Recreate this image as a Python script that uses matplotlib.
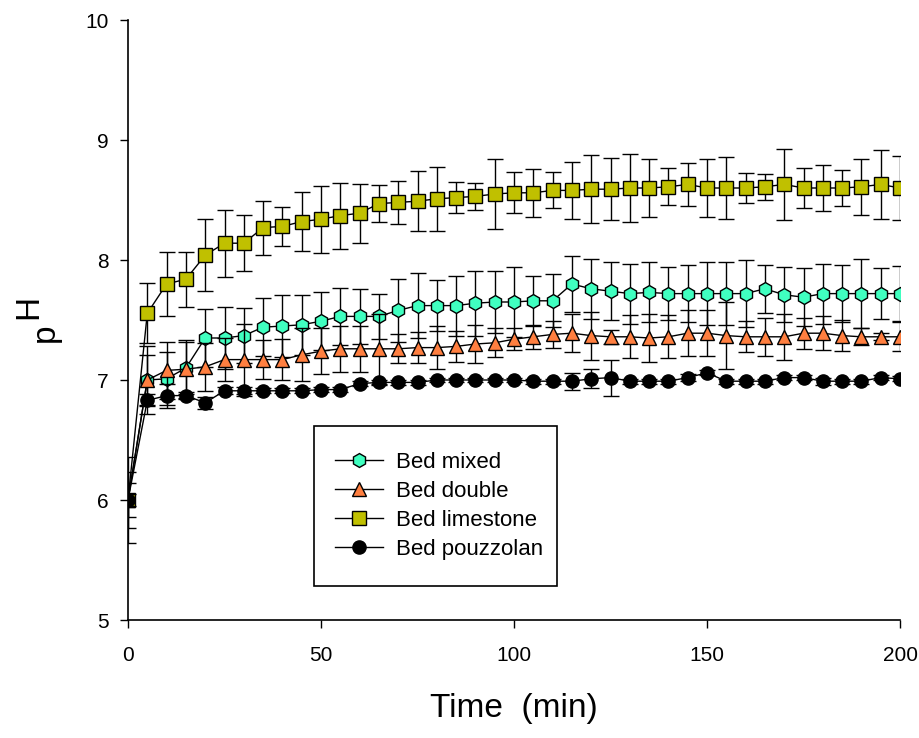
import matplotlib
matplotlib.use("Agg")
import matplotlib.pyplot as plt
from matplotlib.patches import Rectangle
from matplotlib.lines import Line2D

plt.rcParams['font.family'] = ['Liberation Sans', 'DejaVu Sans']

time = [0, 5, 10, 15, 20, 25, 30, 35, 40, 45, 50, 55, 60, 65, 70, 75, 80, 85, 90, 95, 100,
        105, 110, 115, 120, 125, 130, 135, 140, 145, 150, 155, 160, 165, 170, 175, 180, 185, 190, 195, 200]

mixed = [6.00, 7.00, 7.01, 7.10, 7.35, 7.35, 7.37, 7.44, 7.45, 7.46, 7.49, 7.53, 7.53, 7.53, 7.58, 7.62, 7.62, 7.62, 7.64, 7.65, 7.65,
         7.66, 7.66, 7.80, 7.76, 7.74, 7.72, 7.73, 7.72, 7.72, 7.72, 7.72, 7.72, 7.76, 7.71, 7.69, 7.72, 7.72, 7.72, 7.72, 7.72]
mixed_err = [0.14, 0.28, 0.22, 0.22, 0.24, 0.26, 0.23, 0.24, 0.26, 0.25, 0.24, 0.24, 0.23, 0.19, 0.26, 0.27, 0.21, 0.25, 0.27, 0.26, 0.29,
             0.21, 0.22, 0.235, 0.25, 0.24, 0.25, 0.25, 0.22, 0.24, 0.26, 0.26, 0.28, 0.20, 0.23, 0.24, 0.25, 0.24, 0.29, 0.21, 0.23]

double = [6.00, 7.00, 7.08, 7.09, 7.11, 7.17, 7.17, 7.17, 7.17, 7.21, 7.24, 7.26, 7.26, 7.26, 7.26, 7.27, 7.27, 7.28, 7.30, 7.31, 7.34,
          7.36, 7.38, 7.39, 7.37, 7.36, 7.36, 7.35, 7.36, 7.39, 7.39, 7.37, 7.36, 7.36, 7.36, 7.39, 7.39, 7.37, 7.36, 7.36, 7.36]
double_err = [0.23, 0.21, 0.24, 0.24, 0.20, 0.18, 0.30, 0.16, 0.17, 0.22, 0.19, 0.19, 0.19, 0.29, 0.12, 0.13, 0.18, 0.13, 0.16, 0.12, 0.09,
              0.10, 0.11, 0.16, 0.20, 0.06, 0.18, 0.20, 0.18, 0.19, 0.19, 0.28, 0.13, 0.16, 0.19, 0.13, 0.14, 0.13, 0.07, 0.03, 0.12]

limestone = [6.00, 7.556, 7.80, 7.84, 8.04, 8.14, 8.14, 8.27, 8.28, 8.32, 8.34, 8.37, 8.39, 8.47, 8.48, 8.49, 8.51, 8.52, 8.53, 8.55, 8.56,
             8.56, 8.58, 8.58, 8.59, 8.59, 8.60, 8.60, 8.61, 8.63, 8.60, 8.60, 8.60, 8.61, 8.63, 8.60, 8.60, 8.60, 8.61, 8.63, 8.60]
limestone_err = [0.36, 0.25, 0.27, 0.23, 0.30, 0.28, 0.235, 0.225, 0.165, 0.245, 0.28, 0.275, 0.245, 0.155, 0.18, 0.25, 0.265, 0.13, 0.115, 0.29, 0.17,
                 0.20, 0.15, 0.235, 0.285, 0.26, 0.28, 0.245, 0.155, 0.18, 0.245, 0.26, 0.125, 0.11, 0.295, 0.165, 0.195, 0.15, 0.235, 0.285, 0.265]

pouzzolan = [6.00, 6.83, 6.87, 6.87, 6.81, 6.91, 6.91, 6.91, 6.91, 6.91, 6.92, 6.92, 6.97, 6.98, 6.98, 6.98, 7.00, 7.00, 7.00, 7.00, 7.00,
             6.99, 6.99, 6.99, 7.01, 7.02, 6.99, 6.99, 6.99, 7.02, 7.06, 6.99, 6.99, 6.99, 7.02, 7.02, 6.99, 6.99, 6.99, 7.02, 7.01]
pouzzolan_err = [0.05, 0.05, 0.10, 0.03, 0.05, 0.03, 0.03, 0.02, 0.02, 0.02, 0.02, 0.02, 0.02, 0.02, 0.02, 0.02, 0.02, 0.02, 0.02, 0.02, 0.02,
                 0.02, 0.02, 0.07, 0.08, 0.15, 0.02, 0.02, 0.02, 0.03, 0.02, 0.02, 0.02, 0.02, 0.02, 0.02, 0.03, 0.02, 0.02, 0.02, 0.02]

labels = ['Bed mixed', 'Bed double', 'Bed limestone', 'Bed pouzzolan']
colors = ['#40FFC0', '#FF7F40', '#C0C000', '#000000']
markers = ['h', '^', 's', 'o']
xticks = [0, 50, 100, 150, 200]
yticks = [5, 6, 7, 8, 9, 10]

W, H = 919, 738
X0, X1, Y0, Y1 = 128, 900, 620, 20   # axes pixel frame

fig = plt.figure(figsize=(W / 100, H / 100), dpi=100)
ax = fig.add_axes([X0 / W, 1 - Y0 / H, (X1 - X0) / W, (Y0 - Y1) / H])

def ax_xy(px, py):
    return (px - X0) / (X1 - X0), (Y0 - py) / (Y0 - Y1)

series = [(mixed, mixed_err), (double, double_err), (limestone, limestone_err), (pouzzolan, pouzzolan_err)]
handles = []
for i, ((vals, errs), lab, col, mk) in enumerate(zip(series, labels, colors, markers)):
    ms = {'h': 10, '^': 10.5, 's': 10, 'o': 9.5}[mk]
    ax.errorbar(time, vals, yerr=errs, fmt='-', color='black', lw=1.0,
                ecolor='black', elinewidth=1.0, capsize=6, capthick=1.0,
                marker=mk, markersize=ms, markerfacecolor=col,
                markeredgecolor='black', markeredgewidth=1.0, zorder=3 + i)
    handles.append(Line2D([], [], color='black', lw=1.0, marker=mk, markersize=ms,
                          markerfacecolor=col, markeredgecolor='black', markeredgewidth=1.0))

ax.set_xlim(0, 200)
ax.set_ylim(5, 10)
ax.set_xticks(xticks)
ax.set_yticks(yticks)
ax.tick_params(direction='out', length=6, width=1, labelsize=15)
ax.tick_params(axis='x', pad=13)
ax.tick_params(axis='y', pad=8)
for s in ['top', 'right']:
    ax.spines[s].set_visible(False)
for s in ['left', 'bottom']:
    ax.spines[s].set_linewidth(1.2)

ax.set_xlabel('Time  (min)', fontsize=24, labelpad=20)

fig.text(45 / W, 1 - 333 / H, 'p', rotation=90, fontsize=24, ha='center', va='center')
fig.text(29 / W, 1 - 307 / H, 'H', rotation=90, fontsize=24, ha='center', va='center')

# legend box
bx0, by0 = ax_xy(314, 586)
bx1, by1 = ax_xy(557, 426)
ax.add_patch(Rectangle((bx0, by0), bx1 - bx0, by1 - by0,
                       transform=ax.transAxes, facecolor='white', edgecolor='black',
                       lw=1.2, zorder=10))
lx, ly = ax_xy(335, 452)
leg = ax.legend(handles, labels, loc='upper left', bbox_to_anchor=(lx, ly),
                frameon=False, fontsize=16, handlelength=2.15, handletextpad=0.6,
                labelspacing=0.36, borderaxespad=0.0, borderpad=0.0)
leg.set_zorder(11)

fig.savefig('out.png', dpi=100)
